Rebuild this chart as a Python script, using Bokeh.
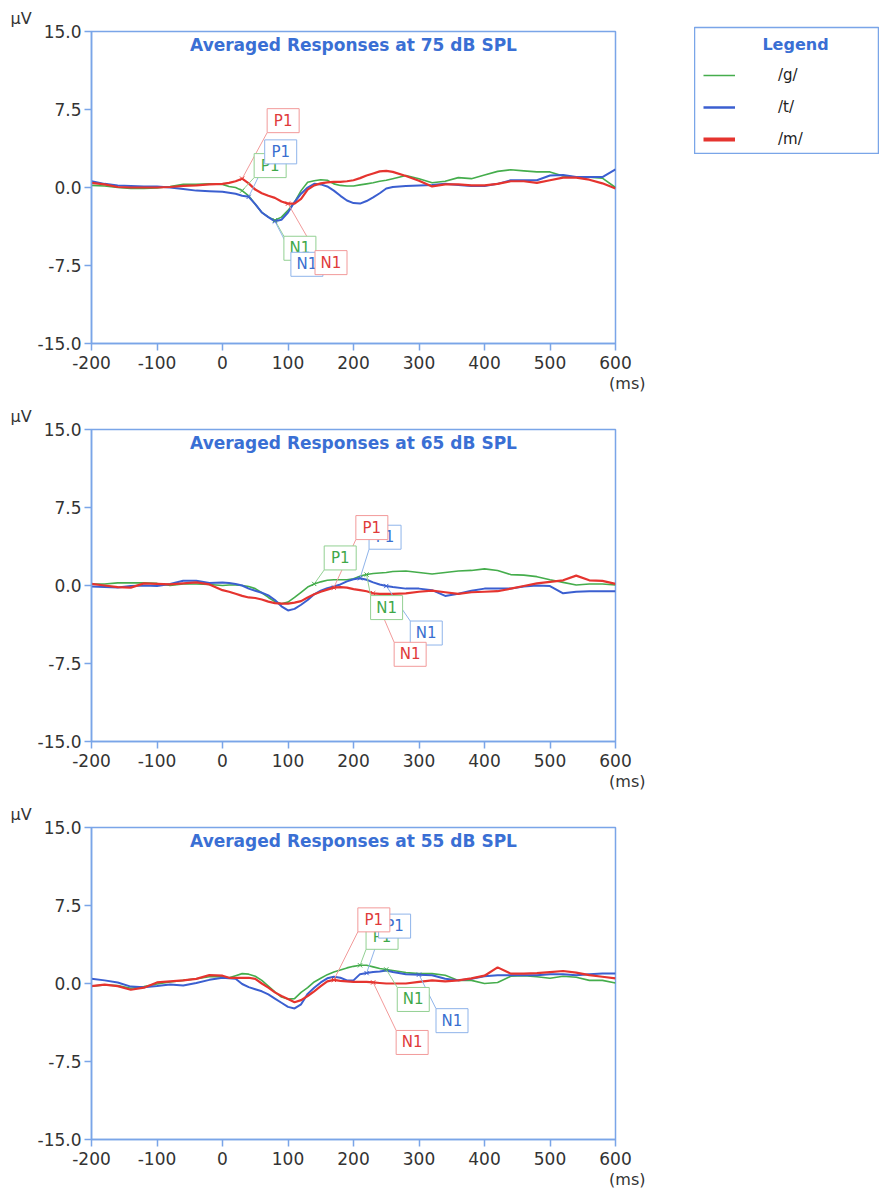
from bokeh.plotting import figure
from bokeh.models import Range1d, FixedTicker, PrintfTickFormatter, Label, Legend, LegendItem, Title
from bokeh.layouts import column, row
from bokeh.embed import file_html
from bokeh.resources import INLINE
from bokeh.core.properties import value

# ---------------- data ----------------
time_ms = [-200, -180, -160, -140, -120, -100, -80, -60, -40, -20, 0,
           10, 20, 30, 40, 50, 60, 70, 80, 90, 100, 110, 120, 130, 140, 150,
           160, 170, 180, 190, 200, 210, 220, 230, 240, 250,
           260, 280, 300, 320, 340, 360, 380, 400, 420, 440, 460, 480, 500,
           520, 540, 560, 580, 600]

series_names = ["/g/", "/t/", "/m/"]
levels = ["75", "65", "55"]

# 75 dB SPL
g75 = [0.2, 0.15, 0.0, -0.1, -0.1, -0.05, 0.1, 0.3, 0.3, 0.35, 0.3,
       0.1, 0.0, -0.3, -0.8, -1.6, -2.4, -2.85, -3.15, -2.85, -2.2,
       -1.4, -0.3, 0.5, 0.65, 0.75, 0.7, 0.35, 0.2, 0.15, 0.15,
       0.25, 0.35, 0.45, 0.6, 0.7,
       0.85, 1.15, 0.85, 0.45, 0.6, 0.95, 0.85, 1.2, 1.55, 1.7,
       1.6, 1.5, 1.5, 1.1, 1.0, 1.0, 0.9, 0.0]
t75 = [0.6, 0.35, 0.2, 0.15, 0.1, 0.1, 0.0, -0.15, -0.3, -0.35, -0.4,
       -0.5, -0.6, -0.8, -0.9, -1.6, -2.4, -2.85, -3.25, -3.1, -2.4,
       -1.4, -0.6, 0.0, 0.35, 0.3, 0.1, -0.3, -0.8, -1.25, -1.5,
       -1.55, -1.3, -0.95, -0.55, -0.1,
       0.05, 0.15, 0.2, 0.25, 0.35, 0.25, 0.15, 0.15, 0.35, 0.7,
       0.7, 0.7, 1.15, 1.2, 1.0, 1.0, 1.0, 1.75]
m75 = [0.45, 0.3, 0.05, 0.0, 0.0, 0.0, 0.05, 0.15, 0.2, 0.3, 0.35,
       0.45, 0.6, 0.85, 0.4, -0.2, -0.55, -0.8, -1.0, -1.35, -1.55,
       -1.55, -1.1, -0.2, 0.2, 0.4, 0.5, 0.55, 0.55, 0.6, 0.7,
       0.9, 1.15, 1.35, 1.55, 1.6,
       1.5, 1.1, 0.65, 0.1, 0.3, 0.3, 0.2, 0.2, 0.35, 0.6,
       0.6, 0.45, 0.7, 0.95, 0.95, 0.75, 0.4, -0.1]

# 65 dB SPL
g65 = [0.15, 0.15, 0.25, 0.25, 0.25, 0.2, 0.0, 0.15, 0.15, 0.1, 0.0,
       0.05, 0.05, 0.0, -0.1, -0.3, -0.7, -1.15, -1.55, -1.75, -1.6,
       -1.15, -0.65, -0.15, 0.15, 0.35, 0.5, 0.55, 0.55, 0.55, 0.65,
       0.9, 1.05, 1.15, 1.2, 1.25,
       1.35, 1.4, 1.25, 1.1, 1.25, 1.4, 1.45, 1.6, 1.45, 1.05,
       1.0, 0.85, 0.55, 0.3, 0.05, 0.15, 0.15, 0.05]
t65 = [-0.1, -0.15, -0.2, -0.05, 0.0, -0.05, 0.15, 0.45, 0.45, 0.25, 0.3,
       0.25, 0.15, 0.0, -0.3, -0.5, -0.7, -0.95, -1.4, -2.0, -2.4,
       -2.25, -1.85, -1.4, -0.85, -0.5, -0.25, -0.1, 0.1, 0.4, 0.6,
       0.7, 0.55, 0.3, 0.1, -0.05,
       -0.15, -0.3, -0.3, -0.45, -1.0, -0.8, -0.5, -0.3, -0.3, -0.3,
       -0.1, 0.0, -0.05, -0.75, -0.6, -0.55, -0.55, -0.55]
m65 = [0.15, 0.0, -0.15, -0.2, 0.2, 0.15, 0.1, 0.2, 0.3, 0.1, -0.45,
       -0.6, -0.8, -1.0, -1.15, -1.2, -1.35, -1.55, -1.7, -1.75, -1.75,
       -1.65, -1.5, -1.15, -0.85, -0.6, -0.4, -0.2, -0.15, -0.2, -0.35,
       -0.45, -0.55, -0.75, -0.8, -0.8,
       -0.8, -0.75, -0.6, -0.5, -0.65, -0.8, -0.65, -0.6, -0.55, -0.3,
       -0.05, 0.2, 0.35, 0.5, 0.95, 0.5, 0.45, 0.15]

# 55 dB SPL
g55 = [-0.25, -0.15, -0.2, -0.45, -0.3, -0.05, 0.15, 0.3, 0.45, 0.65, 0.65,
       0.55, 0.75, 0.95, 0.9, 0.7, 0.3, -0.25, -0.8, -1.3, -1.5,
       -1.45, -0.85, -0.4, 0.15, 0.5, 0.85, 1.1, 1.3, 1.5, 1.65,
       1.75, 1.75, 1.6, 1.45, 1.35,
       1.25, 1.05, 0.95, 0.95, 0.8, 0.3, 0.3, 0.0, 0.1, 0.7,
       0.75, 0.65, 0.5, 0.7, 0.6, 0.3, 0.3, 0.05]
t55 = [0.45, 0.3, 0.1, -0.3, -0.35, -0.25, -0.1, -0.2, 0.05, 0.35, 0.55,
       0.5, 0.45, -0.05, -0.35, -0.55, -0.75, -1.05, -1.45, -1.85, -2.25,
       -2.4, -2.0, -1.0, -0.4, 0.1, 0.5, 0.65, 0.55, 0.3, 0.3,
       0.9, 1.0, 1.1, 1.15, 1.25,
       1.1, 0.9, 0.85, 0.8, 0.45, 0.3, 0.45, 0.7, 0.8, 0.8,
       0.8, 0.8, 0.9, 0.9, 0.8, 0.9, 0.95, 0.95]
m55 = [-0.25, -0.1, -0.25, -0.6, -0.4, 0.1, 0.2, 0.3, 0.45, 0.8, 0.75,
       0.55, 0.55, 0.55, 0.55, 0.45, 0.0, -0.4, -0.85, -1.2, -1.5,
       -1.8, -1.6, -1.2, -0.75, -0.25, 0.2, 0.35, 0.25, 0.2, 0.15,
       0.15, 0.15, 0.1, 0.05, 0.0,
       0.0, 0.0, 0.15, 0.3, 0.2, 0.3, 0.5, 0.75, 1.55, 0.95,
       0.95, 1.0, 1.1, 1.2, 1.05, 0.8, 0.65, 0.5]

# peak picks (order: /g/, /t/, /m/)
p1_lat_75 = [30, 40, 30]
p1_amp_75 = [-0.3, -0.9, 0.85]
n1_lat_75 = [80, 80, 100]
n1_amp_75 = [-3.15, -3.25, -1.55]

p1_lat_65 = [140, 210, 170]
p1_amp_65 = [0.15, 0.7, -0.2]
n1_lat_65 = [220, 250, 230]
n1_amp_65 = [1.05, -0.05, -0.75]

p1_lat_55 = [210, 220, 170]
p1_amp_55 = [1.75, 1.0, 0.35]
n1_lat_55 = [250, 300, 230]
n1_amp_55 = [1.35, 0.85, 0.1]

x_ticks = [-200, -100, 0, 100, 200, 300, 400, 500, 600]
y_ticks = [-15.0, -7.5, 0.0, 7.5, 15.0]

# ---------------- layout / style ----------------
FONT = "DejaVu Sans"
FRAME = "#7aa5e8"
TITLE_C = "#3a6fd4"
TXT = "#333333"
LINE_COLORS = ["#45ad4c", "#3b5fd0", "#e5342f"]
LINE_WIDTHS = [1.6, 2.0, 2.2]
LIGHT_COLORS = ["#93d093", "#8fb4ea", "#f29a9a"]
TEXT_COLORS = ["#3fa84a", "#3a6fd0", "#e03a3a"]

FW, FH = 524, 312
XMIN, XMAX = -200, 600
YMIN, YMAX = -15, 15
SX = FW / (XMAX - XMIN)
SY = FH / (YMAX - YMIN)
BW, BH = 32, 24

# label box centre offsets from peak, pixels (dx right, dy down)
offsets = {
    "75": {"P1": [(28, -25), (32, -45), (41, -58)],
           "N1": [(25, 28), (32, 43), (43, 59)]},
    "65": {"P1": [(26, -26), (25, -41), (38, -60)],
           "N1": [(20, 33), (40, 47), (37, 61)]},
    "55": {"P1": [(22, -28), (28, -47), (40, -60)],
           "N1": [(27, 30), (33, 46), (39, 60)]},
}


def make_panel(level, traces, p1, n1, top, bottom):
    p = figure(frame_width=FW, frame_height=FH,
               min_border_left=91, min_border_right=79,
               min_border_top=top, min_border_bottom=bottom,
               x_range=Range1d(XMIN, XMAX), y_range=Range1d(YMIN, YMAX),
               toolbar_location=None, output_backend="svg",
               background_fill_color="white", border_fill_color="white")
    p.grid.visible = False
    p.outline_line_color = FRAME
    p.outline_line_width = 1.5

    for ax in (p.xaxis[0], p.yaxis[0]):
        ax.axis_line_color = FRAME
        ax.axis_line_width = 1.5
        ax.major_tick_line_color = FRAME
        ax.major_tick_line_width = 1.5
        ax.major_tick_out = 7
        ax.major_tick_in = 0
        ax.minor_tick_line_color = None
        ax.major_label_text_font = FONT
        ax.major_label_text_font_size = "17px"
        ax.major_label_text_color = TXT
        ax.axis_label_standoff = 0
    p.xaxis.ticker = FixedTicker(ticks=x_ticks)
    p.xaxis.formatter = PrintfTickFormatter(format="%d")
    p.xaxis.major_label_standoff = 5
    p.yaxis.ticker = FixedTicker(ticks=y_ticks)
    p.yaxis.formatter = PrintfTickFormatter(format="%.1f")
    p.yaxis.major_label_standoff = 3

    for vals, col, lw in zip(traces, LINE_COLORS, LINE_WIDTHS):
        p.line(time_ms, vals, line_color=col, line_width=lw)

    boxes = []
    for comp, (lats, amps) in (("P1", p1), ("N1", n1)):
        for i in range(3):
            dx, dy = offsets[level][comp][i]
            cx = lats[i] + dx / SX
            cy = amps[i] - dy / SY
            kx = cx - (BW / 2) / SX
            if comp == "P1":
                ky = cy - (BH / 2) / SY
            else:
                ky = cy + (BH / 2) / SY
            p.segment(x0=[lats[i]], y0=[amps[i]], x1=[kx], y1=[ky],
                      line_color=LIGHT_COLORS[i], line_width=1)
            boxes.append((i, comp, cx, cy))

    for i in range(3):
        p.scatter([p1[0][i], n1[0][i]], [p1[1][i], n1[1][i]], marker="x",
                  size=6, line_color=LINE_COLORS[i], line_width=1)

    for i in range(3):
        for (j, comp, cx, cy) in boxes:
            if j != i:
                continue
            p.rect(x=[cx], y=[cy], width=BW, height=BH,
                   width_units="screen", height_units="screen",
                   fill_color="white", line_color=LIGHT_COLORS[i], line_width=1)
            p.text(x=[cx], y=[cy], text=[comp], text_align="center",
                   text_baseline="middle", text_color=TEXT_COLORS[i],
                   text_font=value(FONT), text_font_size="15px")

    p.add_layout(Label(x=FW / 2, y=FH - 3, x_units="screen", y_units="screen",
                       text="Averaged Responses at %s dB SPL" % level,
                       text_align="center", text_baseline="top",
                       text_font=FONT, text_font_size="17px",
                       text_font_style="bold", text_color=TITLE_C))
    p.add_layout(Title(text="μV", align="left", offset=-81, standoff=8,
                       text_font=FONT, text_font_size="16px",
                       text_font_style="normal", text_color=TXT), "above")
    p.add_layout(Title(text="(ms)", align="right", offset=-30, standoff=0,
                       text_font=FONT, text_font_size="16px",
                       text_font_style="normal", text_color=TXT), "below")
    return p


f1 = make_panel("75", [g75, t75, m75], (p1_lat_75, p1_amp_75), (n1_lat_75, n1_amp_75), 31, 57)
f2 = make_panel("65", [g65, t65, m65], (p1_lat_65, p1_amp_65), (n1_lat_65, n1_amp_65), 28, 57)
f3 = make_panel("55", [g55, t55, m55], (p1_lat_55, p1_amp_55), (n1_lat_55, n1_amp_55), 29, 57)

# legend panel
LW_, LH_ = 184, 126
lf = figure(frame_width=LW_, frame_height=LH_, min_border_top=27,
            min_border_left=0, min_border_right=1, min_border_bottom=1,
            x_range=Range1d(0, LW_), y_range=Range1d(0, LH_),
            x_axis_location=None, y_axis_location=None,
            toolbar_location=None, output_backend="svg",
            background_fill_color="white", border_fill_color="white")
lf.grid.visible = False
lf.outline_line_color = FRAME
lf.outline_line_width = 1.5
legend_widths = [1.5, 2.5, 4.0]
items = []
for name, col, w, vals in zip(series_names, LINE_COLORS, legend_widths, [g75, t75, m75]):
    # one-point line: nothing is drawn in the box, only its legend glyph
    r = lf.line(x=time_ms[:1], y=vals[:1], line_color=col, line_width=w)
    items.append(LegendItem(label=name, renderers=[r]))
legend = Legend(items=items, location=(9, 4), padding=0, margin=0, spacing=12,
                glyph_width=32, glyph_height=20, label_height=20,
                label_standoff=43, border_line_color=None,
                background_fill_alpha=0,
                label_text_font=FONT, label_text_font_size="15px",
                label_text_color="#222222")
lf.add_layout(legend)
lf.add_layout(Label(x=101, y=LH_ - 17, text="Legend", text_align="center",
                    text_baseline="middle", text_font=FONT,
                    text_font_size="16px", text_font_style="bold",
                    text_color=TITLE_C))

layout = row(column(f1, f2, f3), lf)

open("out.html", "w").write(file_html(layout, INLINE))
